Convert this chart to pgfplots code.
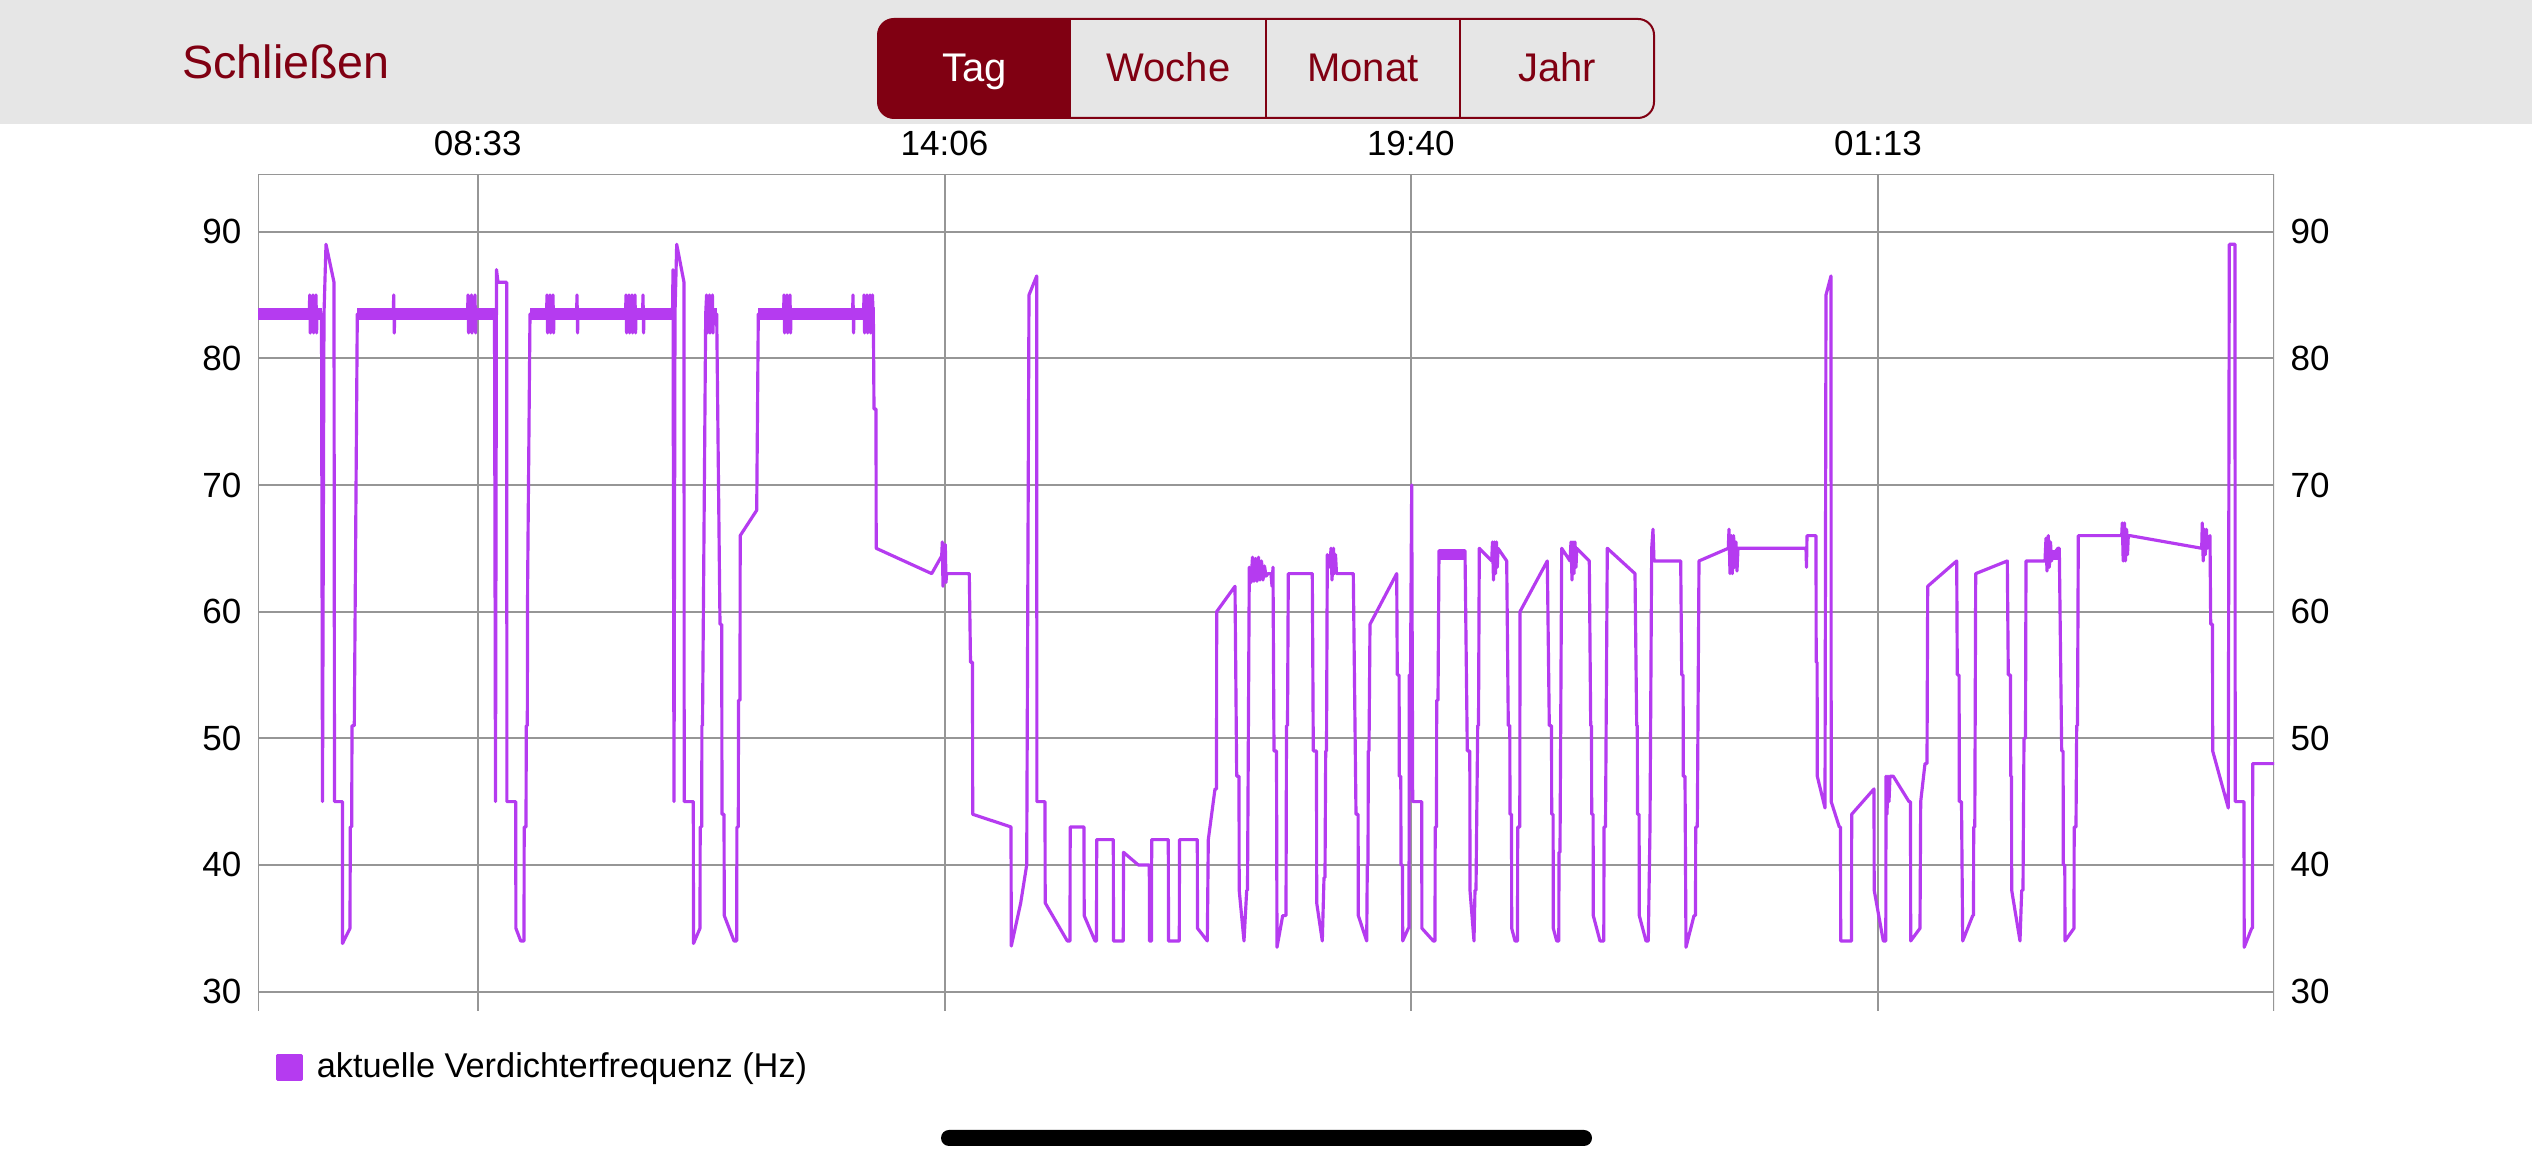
\documentclass[border=0pt]{standalone}
\usepackage{pgfplots}
\pgfplotsset{compat=1.18}
\usepackage{fontspec}
\setmainfont{Liberation Sans}
\definecolor{vio}{RGB}{181,59,240}
\definecolor{dred}{RGB}{128,0,18}
\definecolor{hdr}{RGB}{230,230,230}
\definecolor{grd}{RGB}{150,150,150}
\begin{document}
\begin{tikzpicture}
\begin{scope}[x=0.3pt,y=0.3pt]
\fill[white] (0,0) rectangle (2532,1170);
\fill[hdr] (0,1046) rectangle (2532,1170);
\node[text=dred, anchor=base, font=\fontsize{14}{16}\selectfont, inner sep=0pt] at (286,1091) {Schließen};
\begin{scope}
\clip[rounded corners=4.8pt] (878,1052) rectangle (1654,1151);
\fill[dred] (878,1052) rectangle (1071,1151);
\end{scope}
\draw[dred, line width=0.6pt, rounded corners=4.8pt] (878,1052) rectangle (1654,1151);
\draw[dred, line width=0.6pt] (1266,1052)--(1266,1151) (1460,1052)--(1460,1151);
\node[text=white, anchor=base, font=\fontsize{12}{14}\selectfont, inner sep=0pt] at (974.5,1088) {Tag};
\node[text=dred, anchor=base, font=\fontsize{12}{14}\selectfont, inner sep=0pt] at (1168.5,1088) {Woche};
\node[text=dred, anchor=base, font=\fontsize{12}{14}\selectfont, inner sep=0pt] at (1363,1088) {Monat};
\node[text=dred, anchor=base, font=\fontsize{12}{14}\selectfont, inner sep=0pt] at (1557,1088) {Jahr};
\fill[black, rounded corners=2.4pt] (941,24) rectangle (1592,40);
\end{scope}

\begin{axis}[
 at={(77.4pt,47.7pt)}, anchor=south west,
 width=604.8pt, height=251.1pt, scale only axis,
 xmin=258, xmax=2274, ymin=28.47, ymax=94.55,
 axis line style={draw=none},
 xtick={477.7,944.5,1410.8,1878}, xticklabels={08:33,14:06,19:40,01:13},
 xticklabel pos=upper,
 ytick={30,40,50,60,70,80,90},
 major tick length=0pt,
 grid=major, grid style={grd, line width=0.6pt},
 tick label style={font=\fontsize{10.5}{12}\selectfont},
 /pgf/number format/assume math mode=true,
 xticklabel style={anchor=base, yshift=5.6pt, inner sep=0pt},
 yticklabel style={anchor=east, xshift=-4.8pt, inner sep=0pt},
 legend style={at={(axis description cs:0.0084,-0.068)}, anchor=west, draw=none, fill=none, inner sep=0pt, nodes={inner sep=0pt}, font=\fontsize{10.3}{12}\selectfont},
 legend cell align=left,
]
\draw[grd, line width=0.6pt] (rel axis cs:0,0) -- (rel axis cs:0,1) -- (rel axis cs:1,1) -- (rel axis cs:1,0);
% dense bands
\addplot[vio, line width=3.6pt, forget plot] coordinates {(258,83.5)(321.5,83.5)};
\addplot[vio, line width=3.6pt, forget plot] coordinates {(357.3,83.5)(494.5,83.5)};
\addplot[vio, line width=3.6pt, forget plot] coordinates {(530,83.5)(672.5,83.5)};
\addplot[vio, line width=3.6pt, forget plot] coordinates {(705.7,83.5)(716.7,83.5)};
\addplot[vio, line width=3.6pt, forget plot] coordinates {(758.3,83.5)(873,83.5)};
\addplot[vio, line width=3pt, forget plot] coordinates {(1439,64.45)(1465,64.45)};
\addplot[vio, line width=3pt, forget plot] coordinates {(2045,64.5)(2059,64.5)};
% main series
\addplot[vio, line width=0.95pt, line join=round, no markers,
 legend image code/.code={\fill[vio] (0pt,-3.6pt) rectangle (7.2pt,3.6pt); \path (11.4pt,0pt);}]
 coordinates {
(258,83.5)(309.3,83.5)(309.7,85)(310.3,82)(310.7,83.5)(312.6,83.5)(313,85)(313.6,82)(314,83.5)(315.6,83.5)(316,85)(316.6,82)(317,83.5)(321.5,83.5)(322.5,45)(324,83.5)(326,89)(334,86)(334.5,45)(342.5,45)(342.5,33.8)(350,35)(350.3,43)(351.7,43)(352,51)(354.3,51)(357.3,83.5)
(393.3,83.5)(393.7,85)(394.3,82)(394.7,83.5)
(467.6,83.5)(468,85)(468.6,82)(469,83.5)(471,83.5)(471.4,85)(472,82)(472.4,83.5)(474.6,83.5)(475,85)(475.6,82)(476,83.5)
(494.5,83.5)(495.5,45)(496.5,87)(498,86)(506.7,86)(506.9,45)(515.7,45)(515.9,35)(520.7,34)(524,34)(524.2,43)(526,43)(526.3,51)(527.3,51)(527.6,62)(530,83.5)
(546.6,83.5)(547,85)(547.6,82)(548,83.5)(549.6,83.5)(550,85)(550.6,82)(551,83.5)(552.6,83.5)(553,85)(553.6,82)(554,83.5)(576.6,83.5)(577,85)(577.6,82)(578,83.5)(625.6,83.5)(626,85)(626.6,82)(627,83.5)(628.6,83.5)(629,85)(629.6,82)(630,83.5)(631.6,83.5)(632,85)(632.6,82)(633,83.5)(634.6,83.5)(635,85)(635.6,82)(636,83.5)(642.6,83.5)(643,85)(643.6,82)(644,83.5)
(672.5,83.5)(673,87)(674,45)(675,83.5)(676.7,89)(684,86)(684.2,45)(693.3,45)(693.5,33.8)(700,35)(700.2,43)(701.7,43)(701.9,51)(702.5,51)(705.7,83.5)
(706.6,85)(707.2,82)(707.6,83.5)(709,83.5)(709.4,85)(710,82)(710.4,83.5)(712,83.5)(712.4,85)(713,82)(713.4,83.5)(716.7,83.5)(720,59)(721.7,59)(722,44)(724,44)(724.3,36)(734,34)(736.7,34)(736.9,43)(738.3,43)(738.5,53)(740,53)(740.2,66)(756.7,68)(758.3,83.5)
(783.6,83.5)(784,85)(784.6,82)(785,83.5)(786.6,83.5)(787,85)(787.6,82)(788,83.5)(789.6,83.5)(790,85)(790.6,82)(791,83.5)(852.6,83.5)(853,85)(853.6,82)(854,83.5)(863.6,83.5)(864,85)(864.6,82)(865,83.5)(866.6,83.5)(867,85)(867.6,82)(868,83.5)(869.6,83.5)(870,85)(870.6,82)(871,83.5)(872.2,83.5)(872.6,85)(873,82)(873.3,84)
(874,76)(876,76)(876.2,65)(931.7,63)(941.7,64.4)(942.3,65.5)(943,62)(943.6,64.5)(945.3,65.3)(946,62.3)(946.6,63)(948,63)(969.3,63)(970.5,56)(972.5,56)(972.7,44)(1011,43)(1011.3,33.6)(1020.7,37)(1026.7,40)(1029,85)(1036.7,86.5)(1036.9,45)(1045,45)(1045.2,37)(1067.3,34)(1070,34)(1070.2,43)(1084,43)(1084.2,36)(1095,34)(1096.5,34)(1096.7,42)(1113.3,42)(1113.5,34)(1123.3,34)(1123.5,41)(1138.3,40)(1149.3,40)(1149.5,34)(1151.5,34)(1151.7,42)(1168.3,42)(1168.5,34)(1179.3,34)(1179.5,42)(1197.3,42)(1197.5,35)(1207.3,34)(1208.3,42)(1215,46)(1216.5,46)(1216.7,60)(1235,62)(1236.7,47)(1239,47)(1239.2,38)(1244,34)(1246.7,38)(1247.5,38)(1249.3,63.5)
(1251,62.3)(1252.5,64.3)(1254,62.4)(1255.5,64.2)(1257,62.4)(1258.5,64.3)(1260,62.5)(1261.5,64)(1263,62.5)(1264.5,63.6)(1266,62.8)(1268,63)(1271,63)(1272,62)(1273,63.5)(1274,49)(1276.5,49)(1277,33.5)(1282.7,36)(1286,36)(1286.5,51)(1287.5,51)(1288.3,63)(1312.3,63)(1313.3,49)(1316.5,49)(1316.7,37)(1322.3,34)(1324,39)(1325,39)(1325.7,49)(1326.5,49)(1327.3,64.5)(1330,63.5)(1331,65)(1332,62.5)(1333.5,65)(1334.5,63)(1335.5,64.5)(1336.5,63)(1353.3,63)(1356,44)(1358.1,44)(1358.3,36)(1366.7,34)(1367.3,40)(1368,40)(1368.3,49)(1369,49)(1370,59)(1396.7,63)(1397.3,55)(1399.1,55)(1399.3,47)(1400.8,47)(1401,40)(1402.5,40)(1402.7,34)(1408.3,35)(1409,35)(1409.3,55)(1410.5,55)(1411.7,70)(1412.7,45)(1421.7,45)(1421.9,35)(1433.3,34)(1435,34)(1435.2,43)(1436.5,43)(1436.7,53)(1438,53)(1439,64.8)(1465,64.8)(1467.3,49)(1469.8,49)(1470,38)(1474,34)(1475,38)(1476,38)(1477.7,51)(1478.5,51)(1479.3,65)(1491.7,64)(1492.5,65.5)(1493.5,62.5)(1494.5,65.5)(1495.5,63)(1496.5,65.5)(1497.3,63.5)(1498,65)(1506.7,64)(1508.3,51)(1509.8,51)(1510,44)(1511.5,44)(1511.7,35)(1515,34)(1517.5,34)(1517.7,43)(1519.8,43)(1520,60)(1547.3,64)(1549.3,51)(1551.5,51)(1551.7,44)(1553.1,44)(1553.3,35)(1556.7,34)(1558.8,34)(1559,41)(1560,41)(1561.7,65)(1570,64)(1571,65.5)(1572,62.5)(1573,65.5)(1574,63)(1575,65.5)(1576,63.5)(1576.7,65)(1589.3,64)(1590.7,51)(1591.5,51)(1591.7,44)(1593.1,44)(1593.3,36)(1600,34)(1603.8,34)(1604,43)(1605.5,43)(1607.3,65)(1635,63)(1636.7,51)(1637.3,51)(1637.5,44)(1639.1,44)(1639.3,36)(1646,34)(1648.3,34)(1650,43)(1651.7,65)(1653,66.5)(1654,64)(1680.7,64)(1681.7,55)(1683.1,55)(1683.3,47)(1685,47)(1686,33.5)(1694,36)(1695.5,36)(1695.7,43)(1697.3,43)(1699,64)(1728.3,65)(1729,66.5)(1730,63)(1731.3,66)(1732.3,63)(1733.6,66)(1734.6,63.5)(1736,65.5)(1737,63.2)(1738,65)(1740,65)(1806,65)(1806.5,63.5)(1807,66)(1816,66)(1816.2,56)(1817.1,56)(1817.3,47)(1825,44.5)(1826,85)(1831,86.5)(1831.2,45)(1839.3,43)(1840.5,43)(1840.7,34)(1851.5,34)(1851.7,44)(1874,46)(1874.2,38)(1883.3,34)(1885.8,34)(1886,47)(1887,44)(1888,47)(1889,45)(1890,47)(1893.3,47)(1909,45)(1910.5,45)(1910.7,34)(1920,35)(1920.7,45)(1925,48)(1927,48)(1927.7,62)(1956.7,64)(1957.3,55)(1959.1,55)(1959.3,45)(1961.5,45)(1962.7,34)(1972.7,36)(1973.5,36)(1973.7,43)(1974.8,43)(1975.7,63)(2007.3,64)(2008.3,55)(2010.5,55)(2010.7,47)(2011.5,47)(2011.7,38)(2020,34)(2021.7,38)(2023,38)(2024,50)(2025.5,50)(2026,64)(2045,64)(2046,65.8)(2047,63.2)(2048.3,66)(2049.3,63.5)(2050.5,65.5)(2051.5,64)(2053,64.5)(2058,65)(2059.3,65)(2061.7,49)(2063.1,49)(2063.3,40)(2064.8,40)(2065,34)(2074,35)(2074.2,43)(2076,43)(2076.7,51)(2077.5,51)(2078.3,66)(2121.7,66)(2122.3,67)(2123.2,64)(2124.5,67)(2125.4,64)(2126.6,66.5)(2127.5,64.5)(2128.3,66)(2130,66)(2201.7,65)(2202.3,67)(2203.2,64)(2204.4,66.5)(2205.3,64.5)(2206.4,66.5)(2207.3,65)(2210,66)(2210.7,59)(2212.5,59)(2212.7,49)(2228.3,44.5)(2229.3,89)(2235,89)(2235.2,45)(2244,45)(2244.2,33.5)(2251.7,35)(2252.5,35)(2252.7,48)(2274,48)
};
\addlegendentry{aktuelle Verdichterfrequenz (Hz)}
\end{axis}

\begin{axis}[
 at={(77.4pt,47.7pt)}, anchor=south west,
 width=604.8pt, height=251.1pt, scale only axis,
 xmin=258, xmax=2274, ymin=28.47, ymax=94.55,
 axis line style={draw=none},
 xtick=\empty,
 ytick={30,40,50,60,70,80,90},
 yticklabel pos=upper,
 major tick length=0pt,
 tick label style={font=\fontsize{10.5}{12}\selectfont},
 /pgf/number format/assume math mode=true,
 yticklabel style={anchor=west, xshift=4.8pt, inner sep=0pt},
]
\addplot[draw=none, forget plot] coordinates {(258,30)};
\end{axis}
\end{tikzpicture}
\end{document}
